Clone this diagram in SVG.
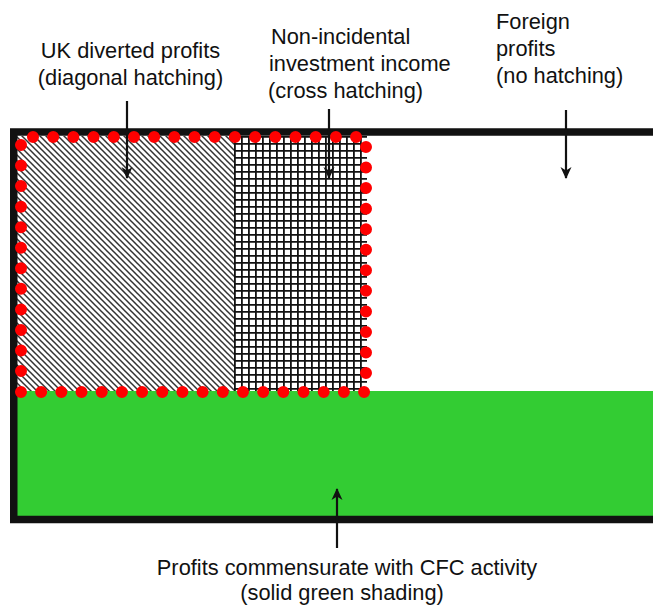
<svg xmlns="http://www.w3.org/2000/svg" width="653" height="605" viewBox="0 0 653 605">
  <defs>
    <pattern id="diag" patternUnits="userSpaceOnUse" width="6" height="6">
      <rect width="6" height="6" fill="#fff"/>
      <path d="M-1,-1 L7,7 M-1,5 L1,7 M5,-1 L7,1" stroke="#333" stroke-width="1.5"/>
    </pattern>
    <pattern id="cross" patternUnits="userSpaceOnUse" x="234" y="136" width="7" height="7">
      <rect width="7" height="7" fill="#fff"/>
      <path d="M0.9,0 V7 M0,0.9 H7" stroke="#111" stroke-width="1.8"/>
    </pattern>
    <marker id="arrow" viewBox="0 0 12 12" refX="11" refY="6" markerWidth="12" markerHeight="12" markerUnits="userSpaceOnUse" orient="auto">
      <path d="M0,0.5 L12,6 L0,11.5 L3.5,6 Z" fill="#111"/>
    </marker>
    <style>
      text { font-family: "Liberation Sans", Arial, sans-serif; font-size: 21.8px; fill: #111; }
      .dots { fill: none; stroke: #ff0000; stroke-width: 12; stroke-linecap: round; }
      .conn { stroke: #111; stroke-width: 2.2; fill: none; marker-end: url(#arrow); }
    </style>
  </defs>
  <rect width="653" height="605" fill="#fff"/>

  <g id="region-green">
    <rect x="17" y="391" width="640" height="125" fill="#33cc33"/>
  </g>
  <g id="region-uk-diverted">
    <rect x="17" y="136" width="217" height="255" fill="url(#diag)"/>
  </g>
  <g id="region-nii">
    <rect x="234" y="136" width="133" height="255" fill="url(#cross)"/>
  </g>
  <g id="frame">
    <rect x="13.75" y="132" width="660" height="387.5" fill="none" stroke="#111" stroke-width="7.5"/>
  </g>
  <g id="dotted-boundary">
    <line class="dots" x1="33" y1="137" x2="356.5" y2="137" stroke-dasharray="0 20.19"/>
    <line class="dots" x1="366" y1="147" x2="366" y2="373.5" stroke-dasharray="0 20.55"/>
    <line class="dots" x1="21" y1="145" x2="21" y2="371.5" stroke-dasharray="0 20.55"/>
    <line class="dots" x1="21" y1="392" x2="364.5" y2="392" stroke-dasharray="0 20.18"/>
  </g>

  <g id="label-uk">
    <text x="130.5" y="58" text-anchor="middle">UK diverted profits</text>
    <text x="130.5" y="85" text-anchor="middle">(diagonal hatching)</text>
  </g>
  <g id="label-nii">
    <text x="271" y="44">Non-incidental</text>
    <text x="269" y="71">investment income</text>
    <text x="268" y="98">(cross hatching)</text>
  </g>
  <g id="label-foreign">
    <text x="496" y="29">Foreign</text>
    <text x="496" y="56">profits</text>
    <text x="496" y="83">(no hatching)</text>
  </g>
  <g id="label-green">
    <text x="347" y="575" text-anchor="middle">Profits commensurate with CFC activity</text>
    <text x="342" y="600" text-anchor="middle">(solid green shading)</text>
  </g>

  <g id="connectors">
    <line class="conn" x1="127" y1="101" x2="127" y2="178"/>
    <line class="conn" x1="329" y1="109" x2="329" y2="178"/>
    <line class="conn" x1="566" y1="110" x2="566" y2="178"/>
    <line class="conn" x1="337" y1="548" x2="337" y2="489"/>
  </g>
</svg>
